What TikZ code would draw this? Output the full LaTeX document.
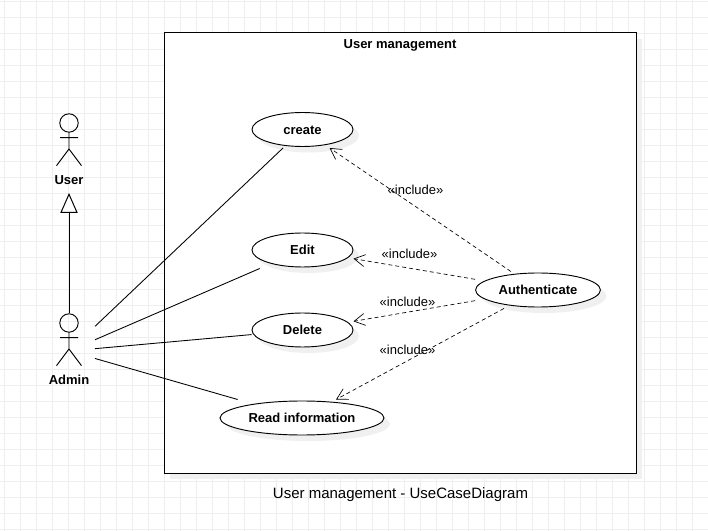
\documentclass[tikz,border=0pt]{standalone}
\usepackage{fontspec}
\setmainfont{Liberation Sans}
\usetikzlibrary{arrows.meta}
\definecolor{gridgray}{HTML}{EEEEEE}
\definecolor{shadowgray}{HTML}{F0F0F0}
\newcommand{\pxu}{0.75pt}
\begin{document}
\begin{tikzpicture}[
	x=\pxu,y=-\pxu,
	gridline/.style={
		gridgray,
		line width=0.75pt
	},
	sysbox/.style={
		draw=black,
		fill=white,
		line width=0.75pt
	},
	ucase/.style={
		draw=black,
		fill=white,
		line width=0.7pt
	},
	ushadow/.style={
		fill=shadowgray
	},
	ulabel/.style={
		inner sep=0pt,
		outer sep=0pt,
		minimum height=37*\pxu,
		text height=8.1pt,
		text depth=0.9pt,
		font=\fontsize{9.75}{12}\selectfont\bfseries
	},
	actorbox/.style={
		inner sep=0pt,
		outer sep=0pt,
		minimum width=52*\pxu,
		minimum height=76*\pxu
	},
	actorname/.style={
		inner sep=0pt,
		font=\fontsize{9.75}{12}\selectfont\bfseries
	},
	assoc/.style={
		line width=0.65pt
	},
	incl/.style={
		dashed,
		dash pattern=on 3pt off 2.25pt,
		line width=0.5pt,
		-{Straight Barb[length=8pt,width=9pt,line width=0.5pt]}
	},
	incllabel/.style={
		inner sep=0pt,
		font=\fontsize{9.75}{12}\selectfont
	},
	general/.style={
		line width=0.75pt,
		-{Triangle[open,length=15pt,width=13pt,line width=0.75pt,fill=white]}
	},
	actor/.pic={
		\draw[line width=0.7pt] (0,-28) circle (9.2);
		\draw[line width=0.7pt] (0,-18.8) -- (0,-2) (-9,-13.3) -- (9,-13.3)
			(-12.5,14.7) -- (0,-2) -- (12.5,14.7);
	}
	]
	% background grid
	\useasboundingbox (0,0) rectangle (708,531);
	\foreach \gx in {0,...,44}
		\draw[gridline] (4.5+16*\gx,0) -- (4.5+16*\gx,531);
	\foreach \gy in {0,...,33}
		\draw[gridline] (0,1.5+16*\gy) -- (708,1.5+16*\gy);
	
	\fill[ushadow] (170,39) rectangle (642,479);
	\draw[sysbox] (164,33) rectangle (636,473);
	\node[font=\fontsize{9.75}{12}\selectfont\bfseries,inner sep=0pt] (title) at (400,45.5) {User management};
	\node[font=\fontsize{11.25}{14}\selectfont,inner sep=0pt] (caption) at (400.5,495) {User management - UseCaseDiagram};
	
	% use cases
	\foreach \nm/\cx/\cy/\rx/\txt in {create/302.5/129.5/50.5/create,edit/302.5/250/50.5/Edit,delete/302.5/330/50.5/Delete,read/302/418/82/Read information,auth/538/290/62.4/Authenticate}{
		\fill[ushadow] (\cx+6,\cy+6) ellipse ({\rx} and 17);
		\draw[ucase] (\cx,\cy) ellipse ({\rx} and 17);
		\node[ulabel,minimum width={(\rx+0.5)*2*0.75pt}] (\nm) at (\cx,\cy) {\txt};
	}
	
	% actors
	\node[actorbox] (user) at (69,151) {};
	\node[actorbox] (admin) at (69,351) {};
	\pic at (user) {actor};
	\pic at (admin) {actor};
	\node[actorname] (userlabel) at (69,180.5) {User};
	\node[actorname] (adminlabel) at (69,379.5) {Admin};
	
	\draw[general,shorten >=3pt] (admin) -- (user);
	
	\draw[assoc] (admin) -- (create);
	\draw[assoc] (admin) -- (edit);
	\draw[assoc] (admin) -- (delete);
	\draw[assoc] (admin) -- (read);
	
	\draw[incl] (auth) -- (create);
	\draw[incl] (auth) -- (edit);
	\draw[incl] (auth) -- (delete);
	\draw[incl] (auth) -- (read);
	
	\node[incllabel] (inclcreate) at (415.5,189.5) {«include»};
	\node[incllabel] (incledit) at (409.5,254) {«include»};
	\node[incllabel] (incldelete) at (407.5,302) {«include»};
	\node[incllabel] (inclread) at (407.5,350) {«include»};
\end{tikzpicture}
\end{document}
